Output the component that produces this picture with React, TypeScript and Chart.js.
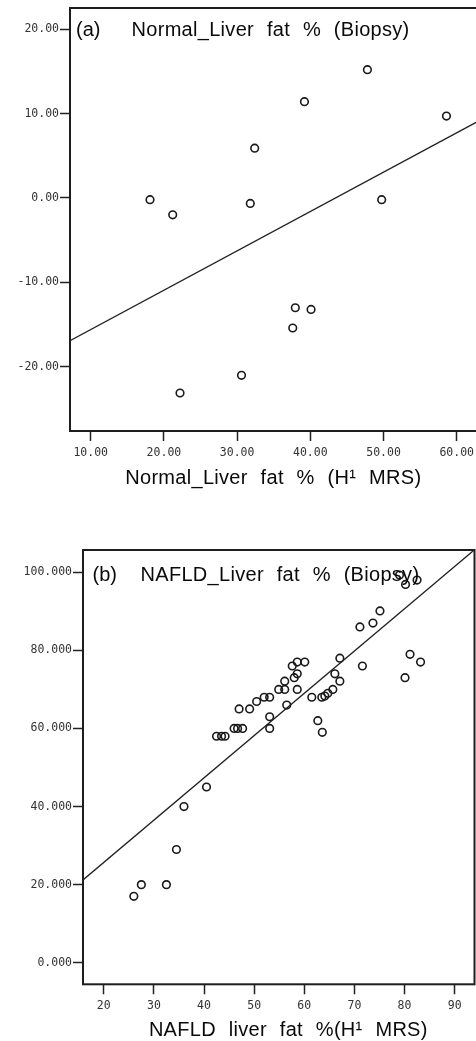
import React, { useEffect, useRef } from "react";
import { Chart, registerables } from "chart.js";

Chart.register(...registerables);

// ---------- Panel (a): Normal ----------
const normalMrs = [47.8, 39.2, 58.6, 32.4, 18.1, 49.75, 21.2, 31.8, 37.95, 40.1, 37.6, 30.6, 22.2];
const normalBiopsy = [15.2, 11.4, 9.7, 5.9, -0.2, -0.2, -2.0, -0.65, -13.0, -13.2, -15.4, -21.0, -23.1];
const normalFitSlope = 0.466;
const normalFitIntercept = -20.24;
const normalXTicks = [10, 20, 30, 40, 50, 60];
const normalYTicks = [-20, -10, 0, 10, 20];

// ---------- Panel (b): NAFLD ----------
const nafldMrs = [
  79.0, 80.2, 82.5, 75.1, 73.7, 71.1, 67.1, 71.6, 81.1, 83.2,
  80.1, 66.1, 67.1, 65.7, 64.7, 64.1, 63.5, 61.5, 62.7, 63.6,
  60.1, 58.6, 57.6, 58.6, 58.0, 58.6, 56.1, 56.1, 54.9, 56.5,
  53.1, 52.0, 50.5, 49.1, 47.0, 53.1, 53.1, 47.7, 46.7, 46.0,
  44.2, 43.5, 42.5, 40.5, 36.0, 34.5, 27.5, 32.5, 26.0,
];
const nafldBiopsy = [
  99.3, 96.9, 98.0, 90.1, 87.0, 86.0, 78.0, 76.0, 79.0, 77.0,
  73.0, 74.0, 72.1, 70.0, 69.0, 68.3, 68.0, 68.0, 62.0, 59.0,
  77.0, 77.0, 76.0, 74.0, 73.0, 70.0, 72.1, 70.0, 70.0, 66.0,
  68.0, 68.0, 66.9, 65.0, 65.0, 63.0, 60.0, 60.0, 60.0, 60.0,
  58.0, 58.0, 58.0, 45.0, 40.0, 29.0, 20.0, 20.0, 17.0,
];
const nafldFitSlope = 1.083;
const nafldFitIntercept = 4.02;
const nafldXTicks = [20, 30, 40, 50, 60, 70, 80, 90];
const nafldYTicks = [0, 20, 40, 60, 80, 100];

const TEXT_FONT = '"Liberation Sans", Arial, sans-serif';
const TICK_FONT = "DejaVu Sans Mono";

const framePlugin = {
  id: "frameBox",
  afterDraw(chart: any) {
    const { ctx, chartArea } = chart;
    ctx.save();
    ctx.strokeStyle = "#1e1e1e";
    ctx.lineWidth = 2;
    ctx.strokeRect(chartArea.left, chartArea.top, chartArea.right - chartArea.left, chartArea.bottom - chartArea.top);
    ctx.restore();
  },
};

const textPlugin = {
  id: "panelText",
  afterDraw(chart: any, _args: any, opts: any) {
    const ctx = chart.ctx;
    for (const t of (opts && opts.items) || []) {
      ctx.save();
      ctx.font = `${t.size}px ${TEXT_FONT}`;
      ctx.fillStyle = "#0a0a0a";
      ctx.textAlign = t.align || "left";
      ctx.textBaseline = "alphabetic";
      try {
        (ctx as any).wordSpacing = (t.wordSpacing || 0) + "px";
        (ctx as any).letterSpacing = (t.letterSpacing || 0) + "px";
      } catch (e) {}
      ctx.fillText(t.text, t.x, t.y);
      ctx.restore();
    }
  },
};

type Frame = { l: number; t: number; r: number; b: number };

type PanelProps = {
  top: number;
  width: number;
  height: number;
  frame: Frame;
  xMin: number;
  xMax: number;
  yMin: number;
  yMax: number;
  xs: number[];
  ys: number[];
  slope: number;
  intercept: number;
  xTicks: number[];
  yTicks: number[];
  xDecimals: number;
  yDecimals: number;
  texts: any[];
};

function Panel(p: PanelProps) {
  const ref = useRef<HTMLCanvasElement>(null);
  useEffect(() => {
    if (!ref.current) return;
    const points = p.xs.map((x, i) => ({ x, y: p.ys[i] }));
    const fitLine = [
      { x: p.xMin, y: p.slope * p.xMin + p.intercept },
      { x: p.xMax, y: p.slope * p.xMax + p.intercept },
    ];
    const gridOpts = {
      display: true,
      drawOnChartArea: false,
      drawTicks: true,
      tickLength: 10,
      tickColor: "#222",
      tickWidth: 1.5,
    };
    const chart = new Chart(ref.current, {
      type: "scatter",
      data: {
        datasets: [
          {
            data: fitLine,
            showLine: true,
            borderColor: "#222",
            borderWidth: 1.3,
            pointRadius: 0,
            fill: false,
          } as any,
          {
            data: points,
            pointRadius: 3.8,
            pointBorderWidth: 1.6,
            pointBorderColor: "#1a1a1a",
            pointBackgroundColor: "rgba(255,255,255,0)",
            showLine: false,
          } as any,
        ],
      },
      options: {
        responsive: false,
        animation: false,
        events: [],
        layout: { padding: { top: p.frame.t, right: p.width - p.frame.r, left: 0, bottom: 0 } },
        plugins: {
          legend: { display: false },
          tooltip: { enabled: false },
          panelText: { items: p.texts },
        } as any,
        scales: {
          x: {
            type: "linear",
            position: "bottom",
            min: p.xMin,
            max: p.xMax,
            afterBuildTicks: (s: any) => {
              s.ticks = p.xTicks.map((v) => ({ value: v }));
            },
            afterFit: (s: any) => {
              s.height = p.height - p.frame.b;
              s.paddingLeft = 0;
              s.paddingRight = 0;
            },
            grid: gridOpts,
            border: { display: false },
            ticks: {
              font: { family: TICK_FONT, size: 11.5 },
              color: "#333",
              padding: 5,
              maxRotation: 0,
              autoSkip: false,
              callback: (v: any) => Number(v).toFixed(p.xDecimals),
            },
          },
          y: {
            type: "linear",
            position: "left",
            min: p.yMin,
            max: p.yMax,
            afterBuildTicks: (s: any) => {
              s.ticks = p.yTicks.map((v) => ({ value: v }));
            },
            afterFit: (s: any) => {
              s.width = p.frame.l;
              s.paddingTop = 0;
              s.paddingBottom = 0;
            },
            grid: gridOpts,
            border: { display: false },
            ticks: {
              font: { family: TICK_FONT, size: 11.5 },
              color: "#333",
              padding: 1,
              autoSkip: false,
              callback: (v: any) => Number(v).toFixed(p.yDecimals),
            },
          },
        },
      } as any,
      plugins: [framePlugin, textPlugin],
    });
    return () => chart.destroy();
  }, []);
  return (
    <canvas
      ref={ref}
      width={p.width}
      height={p.height}
      style={{ position: "absolute", left: 0, top: p.top, width: p.width, height: p.height }}
    />
  );
}

export default function App() {
  return (
    <div
      style={{
        position: "absolute",
        left: 0,
        top: 0,
        width: 476,
        height: 1041,
        overflow: "hidden",
        background: "#fff",
      }}
    >
      <Panel
        top={0}
        width={484}
        height={500}
        frame={{ l: 70, t: 8, r: 477.5, b: 431 }}
        xMin={7.17}
        xMax={62.84}
        yMin={-27.6}
        yMax={22.5}
        xs={normalMrs}
        ys={normalBiopsy}
        slope={normalFitSlope}
        intercept={normalFitIntercept}
        xTicks={normalXTicks}
        yTicks={normalYTicks}
        xDecimals={2}
        yDecimals={2}
        texts={[
          { text: "(a)", x: 76, y: 36, size: 20 },
          { text: "Normal_Liver fat % (Biopsy)", x: 131.5, y: 36, size: 20, wordSpacing: 7, letterSpacing: 0.3 },
          { text: "Normal_Liver fat % (H\u00B9 MRS)", x: 273.3, y: 484, size: 20, align: "center", wordSpacing: 7, letterSpacing: 0.3 },
        ]}
      />
      <Panel
        top={500}
        width={482}
        height={541}
        frame={{ l: 83, t: 50, r: 474.5, b: 484.3 }}
        xMin={15.86}
        xMax={93.96}
        yMin={-5.53}
        yMax={105.71}
        xs={nafldMrs}
        ys={nafldBiopsy}
        slope={nafldFitSlope}
        intercept={nafldFitIntercept}
        xTicks={nafldXTicks}
        yTicks={nafldYTicks}
        xDecimals={0}
        yDecimals={3}
        texts={[
          { text: "(b)", x: 92.5, y: 81, size: 20 },
          { text: "NAFLD_Liver fat % (Biopsy)", x: 140.5, y: 81, size: 20, wordSpacing: 7, letterSpacing: 0.3 },
          { text: "NAFLD liver fat %(H\u00B9 MRS)", x: 288.3, y: 536, size: 20, align: "center", wordSpacing: 7, letterSpacing: 0.3 },
        ]}
      />
    </div>
  );
}
